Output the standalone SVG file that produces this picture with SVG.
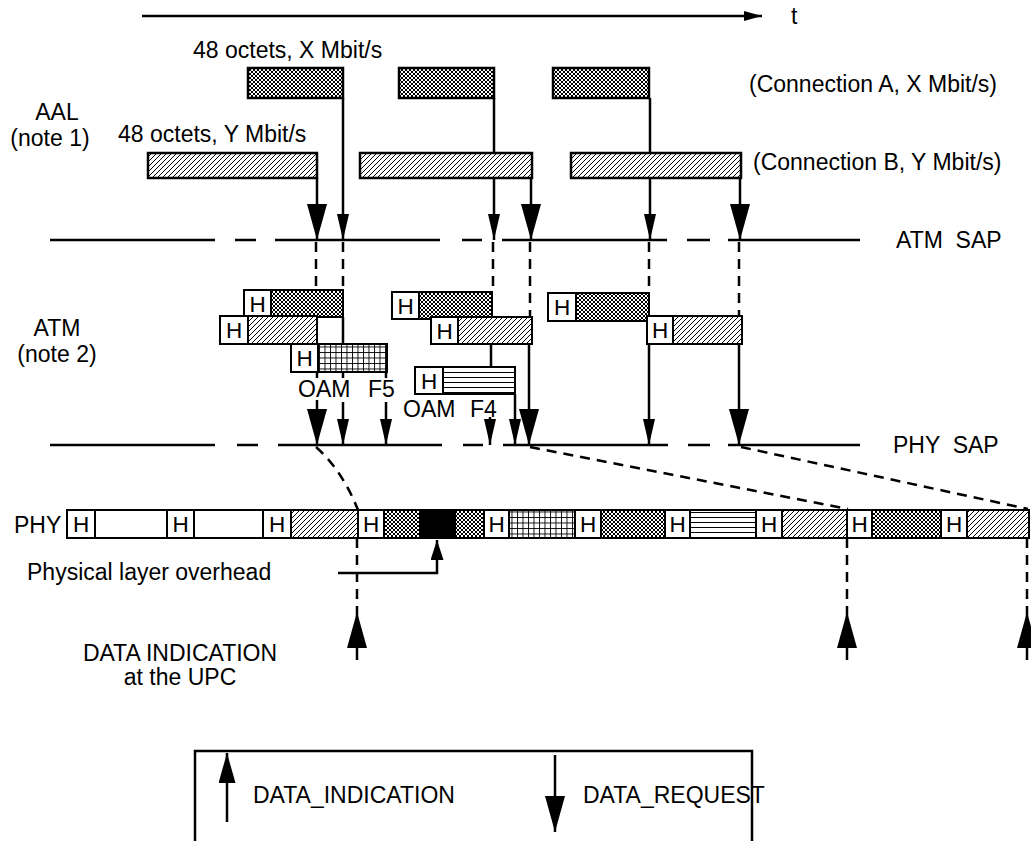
<svg xmlns="http://www.w3.org/2000/svg" width="1031" height="841" viewBox="0 0 1031 841">
<style>
text{font-family:"Liberation Sans",Arial,sans-serif;font-size:23px;fill:#000;white-space:pre}
.h{font-size:22.5px;text-anchor:middle}
.box{stroke:#000;stroke-width:2.5}
.cell{stroke:#000;stroke-width:2}
.hb{fill:#fff;stroke:#000;stroke-width:2}
.ln{stroke:#000;stroke-width:2.5;fill:none}
.dl{stroke:#000;stroke-width:2.5;fill:none;stroke-dasharray:10 7}
.sap{stroke:#000;stroke-width:2.5;fill:none}
.bA{marker-end:url(#big)}
.sA{marker-end:url(#small)}
</style>
<defs>
<pattern id="xh" width="4" height="4" patternUnits="userSpaceOnUse">
<rect width="4" height="4" fill="#fff"/>
<path d="M0,0L4,4M4,0L0,4" stroke="#000" stroke-width="1"/>
</pattern>
<pattern id="dg" width="5" height="5" patternUnits="userSpaceOnUse">
<rect width="5" height="5" fill="#fff"/>
<path d="M0,5L5,0M-1,1L1,-1M4,6L6,4" stroke="#000" stroke-width="1"/>
</pattern>
<pattern id="gr" width="5.5" height="5.5" patternUnits="userSpaceOnUse">
<rect width="5.5" height="5.5" fill="#fff"/>
<path d="M0,0.5H5.5M0.5,0V5.5" stroke="#000" stroke-width="0.9"/>
</pattern>
<pattern id="hl" width="6" height="5" patternUnits="userSpaceOnUse">
<rect width="6" height="5" fill="#fff"/>
<path d="M0,2.5H6" stroke="#000" stroke-width="1"/>
</pattern>
<marker id="big" markerUnits="userSpaceOnUse" viewBox="0 0 36 20" markerWidth="36" markerHeight="20" refX="36" refY="10" orient="auto">
<path d="M0,0L36,10L0,20z" fill="#000"/>
</marker>
<marker id="small" markerUnits="userSpaceOnUse" viewBox="0 0 26 12" markerWidth="26" markerHeight="12" refX="26" refY="6" orient="auto">
<path d="M0,0L26,6L0,12z" fill="#000"/>
</marker>
<marker id="mid" markerUnits="userSpaceOnUse" viewBox="0 0 20 13" markerWidth="20" markerHeight="13" refX="20" refY="6.5" orient="auto">
<path d="M0,0L20,6.5L0,13z" fill="#000"/>
</marker>
<marker id="leg" markerUnits="userSpaceOnUse" viewBox="0 0 30 17" markerWidth="30" markerHeight="17" refX="30" refY="8.5" orient="auto">
<path d="M0,0L30,8.5L0,17z" fill="#000"/>
</marker>
<marker id="tA" markerUnits="userSpaceOnUse" viewBox="0 0 18 10" markerWidth="18" markerHeight="10" refX="18" refY="5" orient="auto">
<path d="M0,0L18,5L0,10z" fill="#000"/>
</marker>
</defs>

<!-- time axis -->
<g id="time-axis">
<line x1="142" y1="16" x2="762" y2="16" class="ln" stroke-width="2" marker-end="url(#tA)"/>
<text x="791" y="24">t</text>
</g>

<!-- labels -->
<g id="labels">
<text x="57" y="120" text-anchor="middle">AAL</text>
<text x="50" y="146" text-anchor="middle">(note 1)</text>
<text x="57" y="336" text-anchor="middle">ATM</text>
<text x="57" y="362" text-anchor="middle">(note 2)</text>
<text x="193" y="58">48 octets, X Mbit/s</text>
<text x="118" y="142">48 octets, Y Mbit/s</text>
<text x="749" y="92">(Connection A, X Mbit/s)</text>
<text x="753" y="170">(Connection B, Y Mbit/s)</text>
<text x="896" y="248">ATM  SAP</text>
<text x="893" y="453">PHY  SAP</text>
<text x="298" y="397">OAM</text>
<text x="368" y="397">F5</text>
<text x="403" y="417">OAM</text>
<text x="470" y="417">F4</text>
<text x="14" y="533">PHY</text>
<text x="27" y="580">Physical layer overhead</text>
<text x="180" y="661" text-anchor="middle">DATA INDICATION</text>
<text x="180" y="685" text-anchor="middle">at the UPC</text>
</g>

<!-- SAP lines -->
<g id="atm-sap">
<path class="sap" d="M50,240H215M235,240H256M275,240H440M462,240H482M502,240H667M687,240H710M728,240H860"/>
</g>
<g id="phy-sap">
<path class="sap" d="M50,445H215M237,445H258M278,445H442M463,445H483M503,445H668M688,445H710M728,445H860"/>
</g>

<!-- connectors -->
<g id="connectors">
<line class="ln bA" x1="317" y1="178" x2="317" y2="240"/>
<line class="ln sA" x1="343" y1="98" x2="343" y2="240"/>
<line class="ln sA" x1="494" y1="98" x2="494" y2="240"/>
<line class="ln bA" x1="531" y1="178" x2="531" y2="240"/>
<line class="ln sA" x1="650" y1="98" x2="650" y2="240"/>
<line class="ln bA" x1="740" y1="178" x2="740" y2="240"/>
<line class="dl" x1="316" y1="242" x2="316" y2="316"/>
<line class="dl" x1="343" y1="242" x2="343" y2="290"/>
<line class="dl" x1="493" y1="242" x2="493" y2="292"/>
<line class="dl" x1="530" y1="242" x2="530" y2="317"/>
<line class="dl" x1="649" y1="242" x2="649" y2="293"/>
<line class="dl" x1="739" y1="242" x2="739" y2="316"/>
<line class="ln" x1="343" y1="317" x2="343" y2="344"/>
<line class="ln" x1="317" y1="372" x2="317" y2="378"/>
<line class="ln bA" x1="317" y1="400" x2="317" y2="445"/>
<line class="ln" x1="343" y1="372" x2="343" y2="378"/>
<line class="ln sA" x1="343" y1="402" x2="343" y2="445"/>
<line class="ln" x1="386" y1="372" x2="386" y2="378"/>
<line class="ln sA" x1="386" y1="402" x2="386" y2="445"/>
<line class="ln" x1="491" y1="344" x2="491" y2="367"/>
<line class="ln sA" x1="490" y1="417" x2="490" y2="445"/>
<line class="ln sA" x1="515" y1="394" x2="515" y2="445"/>
<line class="ln bA" x1="529" y1="344" x2="529" y2="445"/>
<line class="ln sA" x1="649" y1="321" x2="649" y2="445"/>
<line class="ln bA" x1="739" y1="344" x2="739" y2="445"/>
<path class="dl" stroke-width="1.8" d="M316,447Q342,470 358,510"/>
<line class="dl" stroke-width="1.8" x1="530" y1="447" x2="848" y2="509"/>
<line class="dl" stroke-width="1.8" x1="741" y1="447" x2="1028" y2="509"/>
<line class="dl" x1="357" y1="538" x2="357" y2="612"/>
<line class="ln" x1="357" y1="660" x2="357" y2="612" marker-end="url(#big)"/>
<line class="dl" x1="847" y1="538" x2="847" y2="612"/>
<line class="ln" x1="847" y1="660" x2="847" y2="612" marker-end="url(#big)"/>
<line class="dl" x1="1027" y1="538" x2="1027" y2="612"/>
<line class="ln" x1="1027" y1="660" x2="1027" y2="612" marker-end="url(#big)"/>
<path class="ln" d="M338,573H437V540" marker-end="url(#mid)"/>
</g>

<!-- AAL SDUs -->
<g id="aal-a1"><rect class="box" x="248" y="68" width="95" height="30" fill="url(#xh)"/></g>
<g id="aal-a2"><rect class="box" x="399" y="68" width="95" height="30" fill="url(#xh)"/></g>
<g id="aal-a3"><rect class="box" x="553" y="68" width="96" height="30" fill="url(#xh)"/></g>
<g id="aal-b1"><rect class="box" x="148" y="153" width="169" height="25" fill="url(#dg)"/></g>
<g id="aal-b2"><rect class="box" x="360" y="153" width="172" height="25" fill="url(#dg)"/></g>
<g id="aal-b3"><rect class="box" x="571" y="153" width="170" height="25" fill="url(#dg)"/></g>

<!-- ATM cells -->
<g id="atm-a1">
<rect class="cell" x="271" y="290" width="72" height="27" fill="url(#xh)"/>
<rect class="hb" x="244" y="290" width="27" height="27"/><text class="h" x="257.5" y="312">H</text>
</g>
<g id="atm-b1">
<rect class="cell" x="248" y="316" width="69" height="28" fill="url(#dg)"/>
<rect class="hb" x="220" y="316" width="28" height="28"/><text class="h" x="234" y="338">H</text>
</g>
<g id="atm-oam-f5">
<rect class="cell" x="318" y="344" width="69" height="28" fill="url(#gr)"/>
<rect class="hb" x="291" y="344" width="27" height="28"/><text class="h" x="304.5" y="366">H</text>
</g>
<g id="atm-a2">
<rect class="cell" x="419" y="292" width="73" height="27" fill="url(#xh)"/>
<rect class="hb" x="392" y="292" width="27" height="27"/><text class="h" x="405.5" y="314">H</text>
</g>
<g id="atm-b2">
<rect class="cell" x="458" y="317" width="74" height="27" fill="url(#dg)"/>
<rect class="hb" x="431" y="317" width="27" height="27"/><text class="h" x="444.5" y="339">H</text>
</g>
<g id="atm-oam-f4">
<rect class="cell" x="443" y="367" width="72" height="27" fill="url(#hl)"/>
<rect class="hb" x="415" y="367" width="28" height="27"/><text class="h" x="429" y="389">H</text>
</g>
<g id="atm-a3">
<rect class="cell" x="576" y="293" width="73" height="28" fill="url(#xh)"/>
<rect class="hb" x="548" y="293" width="28" height="28"/><text class="h" x="562" y="315">H</text>
</g>
<g id="atm-b3">
<rect class="cell" x="673" y="316" width="69" height="28" fill="url(#dg)"/>
<rect class="hb" x="647" y="316" width="26" height="28"/><text class="h" x="660" y="338">H</text>
</g>

<!-- PHY stream -->
<g id="phy-stream">
<rect class="hb" x="67" y="510" width="28" height="28"/><text class="h" x="81" y="532">H</text>
<rect class="cell" x="95" y="510" width="72" height="28" fill="#fff"/>
<rect class="hb" x="167" y="510" width="27" height="28"/><text class="h" x="180.5" y="532">H</text>
<rect class="cell" x="194" y="510" width="69" height="28" fill="#fff"/>
<rect class="hb" x="263" y="510" width="28" height="28"/><text class="h" x="277" y="532">H</text>
<rect class="cell" x="291" y="510" width="67" height="28" fill="url(#dg)"/>
<rect class="hb" x="358" y="510" width="26" height="28"/><text class="h" x="371" y="532">H</text>
<rect class="cell" x="384" y="510" width="36" height="28" fill="url(#xh)"/>
<rect class="cell" x="420" y="510" width="35" height="28" fill="#000"/>
<rect class="cell" x="455" y="510" width="29" height="28" fill="url(#xh)"/>
<rect class="hb" x="484" y="510" width="25" height="28"/><text class="h" x="496.5" y="532">H</text>
<rect class="cell" x="509" y="510" width="66" height="28" fill="url(#gr)"/>
<rect class="hb" x="575" y="510" width="26" height="28"/><text class="h" x="588" y="532">H</text>
<rect class="cell" x="601" y="510" width="64" height="28" fill="url(#xh)"/>
<rect class="hb" x="665" y="510" width="25" height="28"/><text class="h" x="677.5" y="532">H</text>
<rect class="cell" x="690" y="510" width="66" height="28" fill="url(#hl)"/>
<rect class="hb" x="756" y="510" width="26" height="28"/><text class="h" x="769" y="532">H</text>
<rect class="cell" x="782" y="510" width="65" height="28" fill="url(#dg)"/>
<rect class="hb" x="847" y="510" width="25" height="28"/><text class="h" x="859.5" y="532">H</text>
<rect class="cell" x="872" y="510" width="69" height="28" fill="url(#xh)"/>
<rect class="hb" x="941" y="510" width="26" height="28"/><text class="h" x="954" y="532">H</text>
<rect class="cell" x="967" y="510" width="62" height="28" fill="url(#dg)"/>
</g>

<!-- legend -->
<g id="legend">
<path class="ln" d="M195,841V751H752V841"/>
<line class="ln" x1="227" y1="822" x2="227" y2="753" marker-end="url(#leg)"/>
<text x="253" y="803">DATA_INDICATION</text>
<line class="ln" x1="555" y1="755" x2="555" y2="832" marker-end="url(#big)"/>
<text x="583" y="803">DATA_REQUEST</text>
</g>
</svg>
